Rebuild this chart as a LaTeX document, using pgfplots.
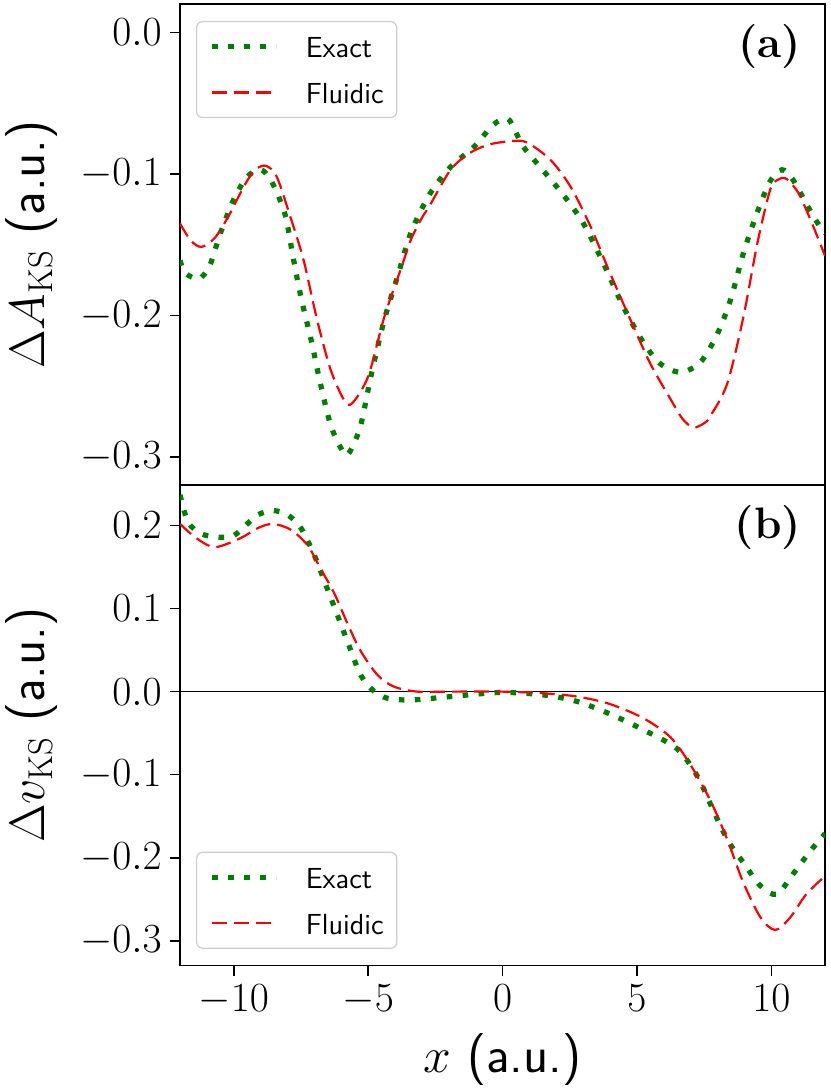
\documentclass[border=0pt]{standalone}
\usepackage{pgfplots}
\pgfplotsset{compat=1.18}
\definecolor{mplgreen}{HTML}{008000}
\definecolor{mplred}{HTML}{FF0000}
\begin{document}
\begin{tikzpicture}
\pgfplotsset{
  every axis/.append style={
    scale only axis, width=322.5pt, height=240.4pt,
    xmin=-12, xmax=12,
    axis line style={line width=0.8pt, black},
    tick style={line width=0.8pt, black},
    tick align=outside, major tick length=5pt,
    xtick pos=left, ytick pos=left,
    tick label style={font=\fontsize{21}{25}\selectfont},
    yticklabel style={anchor=east, inner sep=0pt, xshift=-4pt},
    xticklabel style={anchor=north, inner sep=0pt, yshift=-4.5pt},
    every axis y label/.style={at={(axis description cs:0,0.5)}, xshift=-67.7pt, rotate=90, anchor=base, font=\fontsize{26}{30}\selectfont},
    every axis x label/.style={at={(axis description cs:0.5,0)}, yshift=-53.6pt, anchor=base, font=\fontsize{26}{30}\selectfont},
    legend cell align=left,
    legend image code/.code={\draw[#1] (0pt,0pt) -- (32pt,0pt);},
    legend style={
      draw=black!20, line width=0.6pt, rounded corners=3pt, fill=white,
      font=\sffamily\fontsize{14.5}{17}\selectfont,
      inner xsep=6.5pt, inner ysep=5pt, row sep=8pt,
      nodes={inner sep=0pt, text height=13pt, text depth=2pt},
      /tikz/every odd column/.append style={column sep=13.5pt},
    },
  },
  exact/.style={mplgreen, line width=2.6pt, dash pattern=on 2.8pt off 5.2pt, line cap=butt, smooth},
  fluid/.style={mplred, line width=1.1pt, dash pattern=on 7.5pt off 3.5pt, line cap=butt, smooth},
}
% ---------------- top panel (a)
\begin{axis}[
  at={(0,240.4pt)}, anchor=south west,
  ymin=-0.3195, ymax=0.02,
  xtick=\empty,
  ytick={-0.3,-0.2,-0.1,0.0},
  yticklabels={$-0.3$,$-0.2$,$-0.1$,$0.0$},
  ylabel={$\Delta A_{\mathrm{KS}}$ \textsf{(a.u.)}},
  legend style={at={(axis description cs:0,1)}, anchor=north west, xshift=8pt, yshift=-8.5pt},
]
\addplot[exact] coordinates {
(-12,-0.161) (-11.8,-0.170) (-11.3,-0.174) (-10.9,-0.165) (-10.5,-0.142) (-10.0,-0.118)
(-9.5,-0.102) (-9.0,-0.097) (-8.6,-0.105) (-8.1,-0.128) (-7.8,-0.158) (-7.5,-0.187)
(-7.1,-0.219) (-6.8,-0.246) (-6.4,-0.277) (-6.0,-0.294) (-5.75,-0.298) (-5.3,-0.279)
(-4.9,-0.243) (-4.4,-0.203) (-3.9,-0.172) (-3.4,-0.141) (-2.7,-0.114) (-1.93,-0.095)
(-1.07,-0.081) (-0.33,-0.065) (0.19,-0.061) (0.48,-0.070) (0.78,-0.081) (1.53,-0.098)
(2.27,-0.115) (3.01,-0.135) (3.75,-0.163) (4.5,-0.194) (5.24,-0.219) (5.87,-0.234)
(6.62,-0.240) (7.36,-0.233) (7.99,-0.213) (8.48,-0.189) (8.96,-0.156) (9.48,-0.127)
(9.96,-0.105) (10.4,-0.097) (10.8,-0.104) (11.3,-0.121) (11.7,-0.134) (12,-0.142)
};
\addlegendentry{Exact}
\addplot[fluid] coordinates {
(-12,-0.135) (-11.6,-0.147) (-11.2,-0.1515) (-10.7,-0.145) (-10.2,-0.130) (-9.6,-0.108)
(-9.2,-0.097) (-8.8,-0.0943) (-8.4,-0.102) (-7.9,-0.130) (-7.4,-0.161) (-6.9,-0.203)
(-6.4,-0.238) (-5.9,-0.2595) (-5.6,-0.262) (-5.0,-0.243) (-4.4,-0.201) (-3.8,-0.168)
(-3.4,-0.146) (-3.0,-0.131) (-2.7,-0.122) (-1.93,-0.097) (-1.2,-0.085) (-0.45,-0.079)
(0.42,-0.0767) (0.93,-0.078) (1.78,-0.090) (2.53,-0.109) (3.27,-0.137) (4.0,-0.170)
(4.76,-0.203) (5.5,-0.234) (6.25,-0.259) (6.7,-0.273) (7.1,-0.279) (7.5,-0.276)
(7.73,-0.271) (8.36,-0.248) (8.96,-0.201) (9.48,-0.149) (9.96,-0.111) (10.25,-0.104)
(10.52,-0.103) (10.8,-0.108) (11.08,-0.116) (11.56,-0.137) (12,-0.158)
};
\addlegendentry{Fluidic}
\node[anchor=base east, xshift=-8.5pt, yshift=-27pt, font=\bfseries\fontsize{22}{26}\selectfont] at (rel axis cs:1,1) {(a)};
\end{axis}
% ---------------- bottom panel (b)
\begin{axis}[
  at={(0,0)}, anchor=south west,
  ymin=-0.330, ymax=0.249,
  xtick={-10,-5,0,5,10},
  xticklabels={$-10$,$-5$,$0$,$5$,$10$},
  ytick={-0.3,-0.2,-0.1,0.0,0.1,0.2},
  yticklabels={$-0.3$,$-0.2$,$-0.1$,$0.0$,$0.1$,$0.2$},
  ylabel={$\Delta v_{\mathrm{KS}}$ \textsf{(a.u.)}},
  xlabel={$x$ \textsf{(a.u.)}},
  legend style={at={(axis description cs:0,0)}, anchor=south west, xshift=8pt, yshift=8.4pt},
]
\addplot[black, line width=0.8pt, forget plot] coordinates {(-12,0) (12,0)};
\addplot[exact] coordinates {
(-12,0.237) (-11.7,0.204) (-11.2,0.190) (-10.6,0.186) (-10.0,0.188) (-9.5,0.202)
(-9.1,0.213) (-8.55,0.218) (-8.0,0.213) (-7.5,0.197) (-7.0,0.164) (-6.58,0.129)
(-6.13,0.091) (-5.72,0.056) (-5.28,0.020) (-4.8,0.001) (-4.28,-0.008) (-3.4,-0.010)
(-1.93,-0.006) (-0.07,-0.001) (1.53,-0.004) (2.79,-0.012) (4.0,-0.027) (5.24,-0.046)
(6.5,-0.069) (7.25,-0.102) (7.73,-0.135) (8.36,-0.178) (8.96,-0.206) (9.6,-0.234)
(10.2,-0.244) (10.8,-0.220) (11.45,-0.192) (12,-0.171)
};
\addlegendentry{Exact}
\addplot[fluid] coordinates {
(-12,0.202) (-11.4,0.185) (-10.7,0.174) (-9.74,0.185) (-9.1,0.197) (-8.55,0.202)
(-7.88,0.195) (-7.25,0.176) (-6.77,0.148) (-6.27,0.119) (-5.77,0.082) (-5.28,0.049)
(-4.65,0.020) (-4.04,0.006) (-3.17,0.0) (-2,0.0) (0,0.0) (1.53,-0.002) (2.79,-0.006)
(4.0,-0.015) (5.24,-0.032) (6.25,-0.055) (6.99,-0.088) (7.73,-0.131) (8.36,-0.178)
(8.96,-0.230) (9.6,-0.272) (10.15,-0.287) (10.7,-0.272) (11.3,-0.244) (12,-0.222)
};
\addlegendentry{Fluidic}
\node[anchor=base east, xshift=-8.5pt, yshift=-27pt, font=\bfseries\fontsize{22}{26}\selectfont] at (rel axis cs:1,1) {(b)};
\end{axis}
\pgfresetboundingbox
\useasboundingbox (-90pt,-62.65pt) rectangle (325pt,482.8pt);
\end{tikzpicture}
\end{document}
